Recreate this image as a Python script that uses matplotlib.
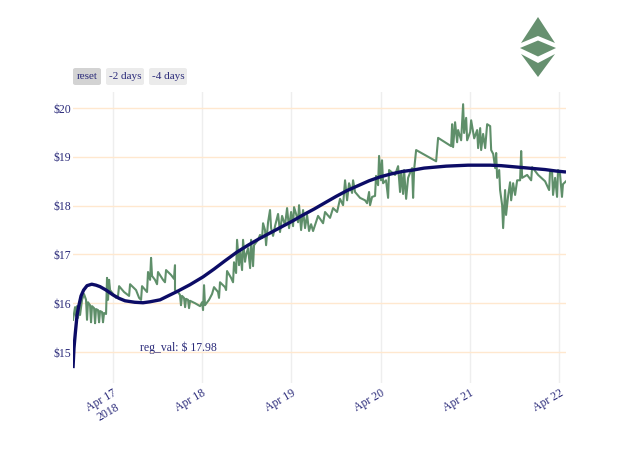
import numpy as np
import pandas as pd
import matplotlib
matplotlib.use("Agg")
from matplotlib import pyplot as plt
from matplotlib.patches import Polygon, FancyBboxPatch

# price data : days after 2018-04-17 00:00, price in $
days = [-0.445, -0.422, -0.411, -0.400, -0.389, -0.377, -0.366, -0.344, -0.322, -0.299,
        -0.288, -0.277, -0.254, -0.243, -0.232, -0.209, -0.198, -0.187, -0.165, -0.153,
        -0.142, -0.120, -0.109, -0.097, -0.075, -0.064, -0.053, -0.041, -0.030,
        0.003, 0.037, 0.059, 0.071, 0.127, 0.183, 0.194, 0.261, 0.295, 0.317,
        0.328, 0.384, 0.395, 0.418, 0.429, 0.440, 0.473, 0.496, 0.507, 0.563,
        0.585, 0.597, 0.653, 0.686, 0.697, 0.697, 0.731, 0.753, 0.764, 0.776,
        0.798, 0.810, 0.821, 0.843, 0.854, 0.866, 0.922, 0.978, 1.000, 1.011,
        1.022, 1.033, 1.078, 1.112, 1.134, 1.179, 1.190, 1.201, 1.257, 1.269,
        1.280, 1.325, 1.347, 1.358, 1.381, 1.392, 1.414, 1.425, 1.448, 1.459,
        1.481, 1.493, 1.515, 1.538, 1.549, 1.571, 1.582, 1.627, 1.649, 1.672,
        1.683, 1.705, 1.717, 1.739, 1.761, 1.773, 1.795, 1.817, 1.851, 1.873,
        1.896, 1.929, 1.952, 1.974, 1.997, 2.019, 2.030, 2.053, 2.075, 2.086,
        2.109, 2.131, 2.153, 2.176, 2.198, 2.221, 2.243, 2.299, 2.355, 2.377,
        2.433, 2.467, 2.512, 2.545, 2.579, 2.601, 2.624, 2.646, 2.680, 2.691,
        2.713, 2.769, 2.825, 2.848, 2.870, 2.881, 2.904, 2.937, 2.948, 2.971,
        2.982, 3.004, 3.015, 3.027, 3.060, 3.083, 3.094, 3.161, 3.195, 3.217,
        3.229, 3.251, 3.262, 3.285, 3.307, 3.341, 3.352, 3.363, 3.374, 3.397,
        3.621, 3.643, 3.789, 3.800, 3.811, 3.833, 3.856, 3.867, 3.901, 3.923,
        3.934, 3.957, 3.968, 4.002, 4.013, 4.047, 4.080, 4.091, 4.114, 4.125,
        4.147, 4.170, 4.192, 4.226, 4.237, 4.260, 4.282, 4.293, 4.304, 4.327,
        4.337, 4.360, 4.371, 4.393, 4.404, 4.427, 4.449, 4.461, 4.483, 4.505,
        4.528, 4.561, 4.573, 4.584, 4.640, 4.685, 4.696, 4.763, 4.841, 4.886,
        4.897, 4.919, 4.930, 4.953, 4.975, 4.986, 5.008, 5.030, 5.041, 5.075]
price = [15.66, 15.92, 15.74, 15.94, 15.70, 15.96, 15.76, 16.07, 16.19, 16.07,
         15.66, 16.02, 15.96, 15.61, 15.94, 15.90, 15.59, 15.88, 15.86, 15.61,
         15.84, 15.82, 15.61, 15.80, 15.78, 16.52, 16.07, 16.48, 16.27,
         16.19, 16.11, 16.15, 16.35, 16.23, 16.15, 16.39, 16.27, 16.11, 16.07,
         16.35, 16.23, 16.64, 16.48, 16.93, 16.56, 16.48, 16.39, 16.64, 16.48,
         16.43, 16.68, 16.58, 16.50, 16.78, 16.27, 16.23, 16.17, 15.96, 16.15,
         16.11, 15.92, 16.09, 16.07, 15.90, 16.05, 16.00, 15.94, 16.02, 15.86,
         16.37, 15.96, 16.07, 16.19, 16.33, 16.23, 16.11, 16.43, 16.33, 16.27,
         16.66, 16.52, 16.43, 16.84, 16.62, 17.30, 16.78, 17.09, 16.68, 17.30,
         16.85, 16.99, 17.13, 16.72, 17.30, 16.76, 17.19, 17.30, 17.40, 17.34,
         17.64, 17.50, 17.19, 17.66, 17.91, 17.54, 17.38, 17.58, 17.83, 17.46,
         17.79, 17.60, 17.95, 17.54, 17.87, 17.58, 17.97, 17.83, 17.66, 18.01,
         17.50, 17.91, 17.54, 17.81, 17.48, 17.62, 17.48, 17.79, 17.64, 17.87,
         17.75, 17.95, 17.87, 18.14, 18.01, 18.52, 18.11, 18.46, 18.26, 18.52,
         18.28, 18.16, 18.11, 18.05, 18.28, 18.01, 18.18, 18.20, 18.61, 18.42,
         19.02, 18.52, 18.93, 18.46, 18.52, 18.16, 18.73, 18.63, 18.81, 18.28,
         18.69, 18.24, 18.73, 18.14, 18.57, 18.73, 18.77, 18.16, 18.73, 19.14,
         18.91, 19.39, 19.22, 19.67, 19.20, 19.71, 19.30, 19.55, 19.34, 20.08,
         19.49, 19.80, 19.34, 19.51, 19.75, 19.38, 19.55, 19.18, 19.59, 19.14,
         19.47, 19.18, 19.67, 19.63, 19.14, 19.06, 18.77, 19.08, 18.57, 18.73,
         18.32, 18.01, 17.54, 18.32, 17.81, 18.20, 18.48, 18.11, 18.46, 18.22,
         18.52, 18.52, 19.12, 18.57, 18.63, 18.52, 18.79, 18.63, 18.50, 18.32,
         18.73, 18.69, 18.22, 18.57, 18.18, 18.73, 18.65, 18.18, 18.44, 18.50]

# regression curve
reg_days = [-0.445, -0.434, -0.419, -0.400, -0.382, -0.355, -0.326, -0.288, -0.235,
            -0.187, -0.142, -0.075, 0.003, 0.071, 0.138, 0.246, 0.339, 0.418, 0.530,
            0.619, 0.720, 0.865, 1.011, 1.134, 1.257, 1.392, 1.515, 1.638, 1.761,
            1.884, 2.008, 2.131, 2.254, 2.377, 2.501, 2.624, 2.747, 2.870, 2.993,
            3.116, 3.240, 3.363, 3.486, 3.609, 3.733, 3.856, 3.979, 4.102, 4.225,
            4.349, 4.472, 4.595, 4.718, 4.841, 4.964, 5.075]
reg_price = [14.67, 15.08, 15.39, 15.75, 15.93, 16.15, 16.27, 16.36, 16.39,
             16.37, 16.34, 16.27, 16.17, 16.10, 16.05, 16.02, 16.01, 16.03, 16.07,
             16.15, 16.24, 16.38, 16.54, 16.70, 16.87, 17.05, 17.19, 17.32, 17.44,
             17.56, 17.68, 17.81, 17.93, 18.06, 18.19, 18.31, 18.41, 18.51, 18.59,
             18.65, 18.70, 18.73, 18.77, 18.79, 18.81, 18.82, 18.83, 18.83, 18.83,
             18.82, 18.80, 18.78, 18.76, 18.74, 18.71, 18.69]
reg_val = 17.98

tick_days = [0, 1, 2, 3, 4, 5]
tick_labels = ["Apr 17\n2018", "Apr 18", "Apr 19", "Apr 20", "Apr 21", "Apr 22"]
y_ticks = [15, 16, 17, 18, 19, 20]
buttons = ["reset", "-2 days", "-4 days"]

base = pd.Timestamp("2018-04-17")
t = base + pd.to_timedelta(days, unit="D")
reg_t = base + pd.to_timedelta(reg_days, unit="D")
tick_t = base + pd.to_timedelta(tick_days, unit="D")

txt_col = "#2b2b7a"
green = "#5f8f6a"
navy = "#0c0c66"
plt.rcParams["font.family"] = ["Liberation Serif", "DejaVu Serif"]

W, H = 640, 457
fig = plt.figure(figsize=(6.4, 4.57), dpi=100)
ax = fig.add_axes([73/W, 1-383/H, (566-73)/W, (383-92)/H])

ax.plot(t, price, color=green, lw=1.5, zorder=2)
ax.plot(reg_t, reg_price, color=navy, lw=2.4, zorder=3, solid_capstyle="butt")

ax.set_xlim(t[0], t[-1])
ax.set_ylim(14.365, 20.33)
ax.set_yticks(y_ticks)
ax.set_yticklabels(["$%d" % v for v in y_ticks])
ax.set_xticks(tick_t)
ax.set_xticklabels(tick_labels, rotation=30, ha="right", va="top",
                   rotation_mode="anchor", multialignment="center")
ax.tick_params(length=0, colors=txt_col, labelsize=8.5)
ax.tick_params(axis="y", pad=1)
ax.tick_params(axis="x", pad=3)
ax.grid(axis="y", color="#ffe8cf", lw=1)
ax.grid(axis="x", color="#eeeeee", lw=1)
for s in ax.spines.values():
    s.set_visible(False)

ax.text(base + pd.Timedelta(days=0.731), 15.08, "reg_val: $ %.2f" % reg_val,
        color=txt_col, fontsize=8.5, ha="center", va="center")

# range buttons (pixel boxes)
boxes = [(73, 101, "#d3d3d3"), (106, 144, "#ebebeb"), (149, 187, "#ebebeb")]
for lab, (x0, x1, fc) in zip(buttons, boxes):
    fig.patches.append(FancyBboxPatch((x0/W, 1-85/H), (x1-x0)/W, 17/H,
                                      boxstyle="round,pad=0,rounding_size=0.004",
                                      transform=fig.transFigure, fc=fc, ec="none"))
    fig.text((x0+x1)/2/W, 1-76.5/H, lab, color=txt_col, fontsize=8,
             ha="center", va="center")

# ETC logo
logo_col = "#66906f"
shapes = [
    [(538, 17), (521, 43), (538, 36), (555, 43)],
    [(520, 48), (538, 40.5), (556, 48), (538, 56.5)],
    [(521, 54), (538, 63), (555, 54), (538, 77)],
]
for pts in shapes:
    fig.patches.append(Polygon([(x/W, 1-y/H) for x, y in pts], closed=True,
                               transform=fig.transFigure, fc=logo_col, ec="none"))

fig.savefig("out.png", dpi=100)
